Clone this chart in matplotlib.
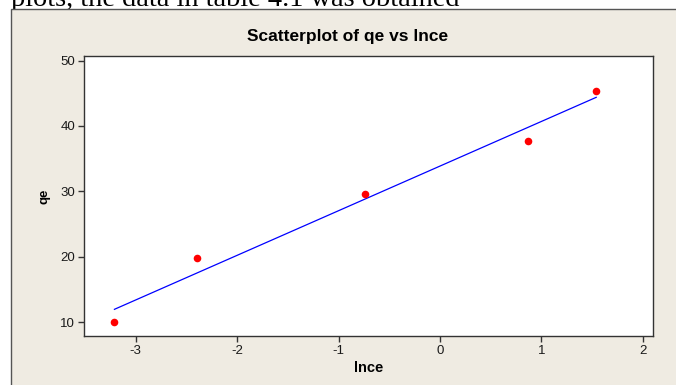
import matplotlib
matplotlib.use("Agg")
import matplotlib.pyplot as plt
import numpy as np
from matplotlib.patches import Rectangle

lnce = [-3.21, -2.40, -0.74, 0.87, 1.54]
qe = [10.0, 19.8, 29.6, 37.7, 45.4]
xticks = [-3, -2, -1, 0, 1, 2]
yticks = [10, 20, 30, 40, 50]

W, H = 676, 385
BEIGE = "#efebe2"
plt.rcParams["font.family"] = ["Liberation Sans", "DejaVu Sans"]
plt.rcParams["axes.unicode_minus"] = False

fig = plt.figure(figsize=(W / 100, H / 100), dpi=100)
fig.patch.set_facecolor("white")

# panel behind the chart
fig.patches.append(Rectangle((11 / W, -0.1), 1.2, 1 - 9 / H + 0.1, transform=fig.transFigure,
                             facecolor=BEIGE, edgecolor="#555555", lw=1.0, zorder=-2))
# clipped line of document text above the panel
fig.text(11 / W, 1 - 5.5 / H, "plots, the data in table 4.1 was obtained", family="Liberation Serif",
         fontsize=20.4, va="baseline", ha="left", zorder=-3)

ax = fig.add_axes([84 / W, 1 - 336 / H, (653 - 84) / W, (336 - 56) / H])
ax.set_zorder(1)
ax.set_facecolor("white")
ax.scatter(lnce, qe, s=30, color="red", zorder=3, linewidths=0)
m, b = np.polyfit(lnce, qe, 1)
xs = np.array([min(lnce), max(lnce)])
ax.plot(xs, m * xs + b, color="blue", lw=0.9, zorder=2)

ax.set_xlim(-3.51, 2.10)
ax.set_ylim(7.9, 50.7)
ax.set_xticks(xticks)
ax.set_yticks(yticks)
ax.tick_params(direction="out", length=4, width=1, color="#333333", labelsize=9.5, pad=2.5,
               labelcolor="#1a1a1a")
for s in ax.spines.values():
    s.set_color("#333333")
    s.set_linewidth(1.0)
ax.set_xlabel("lnce", fontsize=10.5, fontweight="bold", labelpad=3)
ax.set_ylabel("qe", fontsize=9.5, fontweight="bold", labelpad=7)
fig.text(348 / W, 1 - 37 / H, "Scatterplot of qe vs lnce", fontsize=12.5, fontweight="bold",
         ha="center", va="center", zorder=2)

fig.savefig("out.png", dpi=100)
